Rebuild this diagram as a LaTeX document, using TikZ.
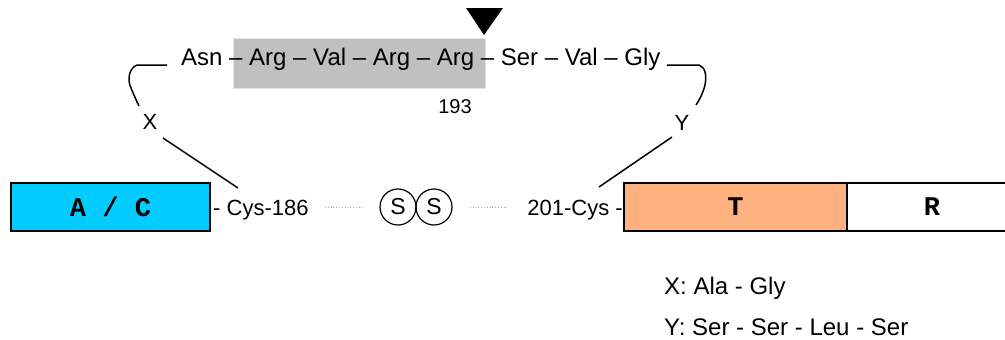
\documentclass[tikz,border=0pt]{standalone}
\usepackage{fontspec}
\setmainfont{Liberation Sans}
\setmonofont{Liberation Mono}
\definecolor{accyan}{HTML}{00CCFF}
\definecolor{tsalmon}{HTML}{FFB07F}
\definecolor{cleave}{HTML}{C0C0C0}
\definecolor{cleaveedge}{HTML}{E4E4E4}
\begin{document}
\begin{tikzpicture}[x=1pt,y=-1pt,
  lbl/.style={inner sep=0pt, font=\fontsize{22}{26}\selectfont},
  seqtxt/.style={inner sep=0pt, font=\fontsize{24}{28}\selectfont},
  dombox/.style={draw=black, line width=1.5pt, inner sep=0pt, minimum height=48pt,
    font=\ttfamily\bfseries\fontsize{27}{30}\selectfont},
  link/.style={line width=1.5pt},
  ssdot/.style={gray!70, dotted, line width=0.8pt},
  sbond/.style={circle, draw=black, line width=1.2pt, minimum size=36pt, inner sep=0pt,
    font=\fontsize{23}{26}\selectfont}]
\useasboundingbox (0,0) rectangle (1005,340);
\clip (0,0) rectangle (1005,340);

% cleavage region box and site marker
\node[fill=cleave, draw=cleaveedge, line width=1pt, minimum width=252pt, minimum height=50pt, inner sep=0pt] (cbox) at (359,63) {};
\fill (466,8) -- (503,8) -- (484,35) -- cycle;

% sequence
\node[seqtxt, anchor=base west] (seq) at (181,65) {Asn -- Arg -- Val -- Arg -- Arg -- Ser -- Val -- Gly};
\node[lbl, font=\fontsize{20}{24}\selectfont] (n193) at (455,107) {193};

% brackets
\coordinate (lb0) at (167,65);
\coordinate (lb1) at (137,65);
\coordinate (lb2) at (139,106);
\draw[link] (lb0) -- (lb1) .. controls (129,68) and (127,80) .. (131,88) .. controls (134,95) and (136,100) .. (lb2);
\coordinate (rb0) at (667,65);
\coordinate (rb1) at (699,65);
\coordinate (rb2) at (696,105);
\draw[link] (rb0) -- (rb1) .. controls (705,67) and (707,75) .. (705,85) .. controls (703,93) and (700,99) .. (rb2);

\node[lbl] (X) at (150,122) {X};
\node[lbl] (Y) at (682,123) {Y};

% domains
\node[dombox, fill=accyan, minimum width=199pt] (AC) at (110.5,207) {A / C};
\node[dombox, fill=tsalmon, minimum width=223pt] (T) at (735.5,207) {T};
\node[dombox, fill=white, minimum width=170pt] (R) at (932,207) {R};

% cysteines
\node[lbl, anchor=base west] (cys186) at (213,215) {- Cys-186};
\node[lbl, anchor=base east] (cys201) at (623,215) {201-Cys -};

% links to X / Y
\coordinate (xa) at (163,138);
\coordinate (xb) at (238,188);
\coordinate (ya) at (672,137);
\coordinate (yb) at (599,187);
\draw[link] (xa) -- (xb);
\draw[link] (ya) -- (yb);

% disulfide
\node[sbond] (s1) at (398,207) {S};
\node[sbond] (s2) at (434,207) {S};
\coordinate (d1a) at (325,207);
\coordinate (d1b) at (363,207);
\coordinate (d2a) at (470,207);
\coordinate (d2b) at (508,207);
\draw[ssdot] (d1a) -- (d1b);
\draw[ssdot] (d2a) -- (d2b);

% legend
\node[seqtxt, anchor=base west] (legx) at (664,294) {X: Ala - Gly};
\node[seqtxt, anchor=base west] (legy) at (664,335) {Y: Ser - Ser - Leu - Ser};
\end{tikzpicture}
\end{document}
